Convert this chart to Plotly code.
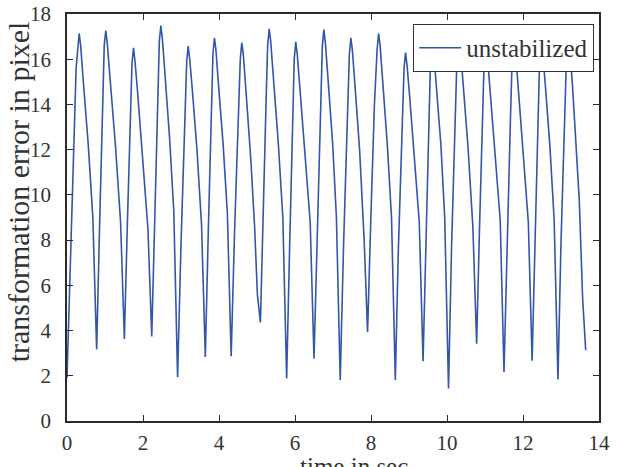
import plotly.graph_objects as go

# ---- data (time in sec, transformation error in pixel) ----
time_s = [
    0.00,
    0.08, 0.16, 0.24, 0.32, 0.36, 0.43, 0.56, 0.68, 0.78,
    0.86, 0.94, 0.98, 1.02, 1.06, 1.13, 1.27, 1.41, 1.51,
    1.59, 1.67, 1.71, 1.75, 1.79, 1.86, 1.99, 2.13, 2.23,
    2.31, 2.39, 2.43, 2.47, 2.51, 2.58, 2.70, 2.81, 2.91,
    3.00, 3.09, 3.15, 3.19, 3.23, 3.30, 3.42, 3.54, 3.64,
    3.72, 3.80, 3.84, 3.88, 3.92, 3.99, 4.11, 4.22, 4.32,
    4.41, 4.50, 4.56, 4.60, 4.64, 4.71, 4.84, 4.94, 5.01, 5.09,
    5.16, 5.24, 5.28, 5.32, 5.36, 5.43, 5.56, 5.68, 5.78,
    5.86, 5.94, 5.98, 6.02, 6.06, 6.13, 6.26, 6.40, 6.50,
    6.59, 6.68, 6.72, 6.76, 6.80, 6.87, 6.99, 7.09, 7.19,
    7.28, 7.37, 7.43, 7.47, 7.51, 7.58, 7.70, 7.82, 7.91,
    8.00, 8.09, 8.16, 8.20, 8.24, 8.31, 8.43, 8.54, 8.64,
    8.72, 8.81, 8.87, 8.91, 8.95, 9.02, 9.14, 9.27, 9.37,
    9.45, 9.53, 9.57, 9.61, 9.65, 9.72, 9.84, 9.94, 10.04,
    10.12, 10.21, 10.27, 10.31, 10.35, 10.42, 10.55, 10.68, 10.78,
    10.86, 10.94, 10.98, 11.02, 11.06, 11.13, 11.26, 11.40, 11.50,
    11.58, 11.67, 11.72, 11.76, 11.80, 11.87, 12.00, 12.14, 12.24,
    12.32, 12.40, 12.44, 12.48, 12.52, 12.59, 12.71, 12.82, 12.92,
    13.00, 13.09, 13.15, 13.19, 13.23, 13.30, 13.40, 13.48, 13.57, 13.65,
]
error_px = [
    1.90,
    6.5, 11.8, 15.6, 17.14, 16.6, 15.0, 12.2, 9.0, 3.16,
    8.8, 13.9, 16.6, 17.27, 16.7, 15.2, 12.3, 8.8, 3.63,
    8.8, 13.4, 15.8, 16.5, 15.9, 14.5, 11.8, 8.5, 3.74,
    9.2, 14.2, 16.8, 17.49, 16.9, 15.3, 12.5, 9.3, 1.94,
    7.8, 13.1, 15.9, 16.58, 16.0, 14.6, 12.0, 8.7, 2.83,
    8.5, 13.6, 16.2, 16.95, 16.4, 14.8, 12.2, 9.2, 2.86,
    8.4, 13.4, 16.0, 16.73, 16.2, 14.6, 11.5, 8.5, 5.6, 4.36,
    9.6, 14.2, 16.6, 17.34, 16.8, 15.2, 12.3, 9.0, 1.88,
    7.8, 13.2, 16.0, 16.77, 16.2, 14.7, 12.0, 8.8, 2.75,
    8.6, 13.8, 16.6, 17.31, 16.7, 15.1, 12.3, 9.0, 1.81,
    7.9, 13.3, 16.2, 16.95, 16.4, 14.8, 12.0, 8.0, 3.93,
    9.2, 14.0, 16.4, 17.14, 16.6, 15.0, 12.2, 9.0, 1.81,
    7.6, 12.8, 15.6, 16.29, 15.7, 14.3, 11.8, 8.8, 2.64,
    8.3, 13.5, 16.2, 16.90, 16.3, 14.8, 12.2, 9.0, 1.44,
    7.7, 13.4, 16.5, 17.20, 16.6, 15.0, 12.2, 8.6, 3.42,
    8.8, 13.6, 16.1, 16.80, 16.2, 14.7, 12.0, 8.9, 2.17,
    8.1, 13.4, 16.3, 17.00, 16.4, 14.9, 12.1, 8.8, 2.67,
    8.4, 13.5, 16.2, 16.90, 16.3, 14.8, 12.1, 8.9, 1.84,
    7.9, 13.4, 16.4, 17.10, 16.5, 14.9, 12.3, 9.8, 5.4, 3.13,
]
series_name = "unstabilized"
x_ticks = [0, 2, 4, 6, 8, 10, 12, 14]
y_ticks = [0, 2, 4, 6, 8, 10, 12, 14, 16, 18]
x_label = "time in sec"
y_label = "transformation error in pixel"

FONT = "Liberation Serif"
AX = "#2a2a2a"
TXT = "#333333"

fig = go.Figure()
fig.add_trace(go.Scatter(
    x=time_s, y=error_px, mode="lines", name=series_name,
    line=dict(color="#3256a8", width=1.6),
))

axis_common = dict(
    showgrid=False, zeroline=False, showline=True, linecolor=AX, linewidth=1.5,
    mirror="ticks", ticks="inside", ticklen=6, tickwidth=1.2, tickcolor=AX,
    tickfont=dict(family=FONT, size=21, color=TXT),
)
fig.update_xaxes(range=[0, 14], tickvals=x_ticks, ticklabelstandoff=2,
                 automargin=True, **axis_common)
fig.update_yaxes(range=[0, 18], tickvals=y_ticks, ticklabelstandoff=10,
                 automargin=False, **axis_common)

fig.add_annotation(text=x_label, xref="paper", yref="paper", x=0.54, y=-0.074,
                   xanchor="center", yanchor="top", showarrow=False,
                   font=dict(family=FONT, size=25, color=TXT))
fig.add_annotation(text=y_label, xref="paper", yref="paper", x=-0.092, y=0.562,
                   xanchor="center", yanchor="middle", textangle=-90, showarrow=False,
                   font=dict(family=FONT, size=30, color=TXT))

fig.update_layout(
    width=622, height=467,
    margin=dict(l=67, r=12, t=13, b=45),
    paper_bgcolor="white", plot_bgcolor="white",
    showlegend=True,
    legend=dict(x=0.991, y=0.9755, xanchor="right", yanchor="top",
                bgcolor="white", bordercolor=TXT, borderwidth=1,
                itemwidth=42,
                font=dict(family=FONT, size=25, color=TXT)),
)

fig.write_html("out.html")
